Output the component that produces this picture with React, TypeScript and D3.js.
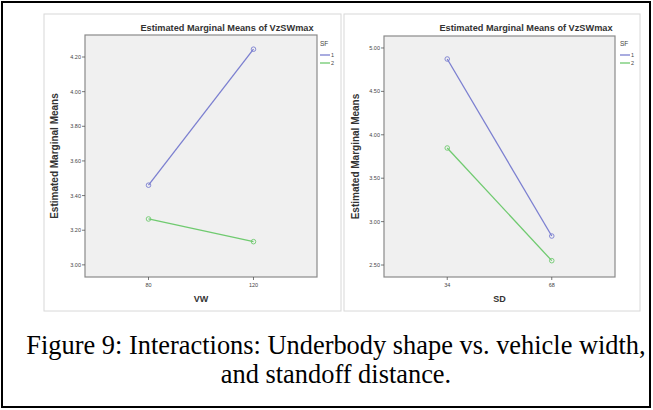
import React from 'react';
import * as d3 from 'd3';

// values
const sfGroups = ['1', '2'];
const sfColors = ['#7b7fd0', '#6fca6f'];

const vwCategories = ['80', '120'];
const vwSF1 = [3.46, 4.245];
const vwSF2 = [3.265, 3.134];
const vwTicks = [3.0, 3.2, 3.4, 3.6, 3.8, 4.0, 4.2];
const vwDomain: [number, number] = [2.93, 4.327];

const sdCategories = ['34', '68'];
const sdSF1 = [4.873, 2.834];
const sdSF2 = [3.848, 2.55];
const sdTicks = [2.5, 3.0, 3.5, 4.0, 4.5, 5.0];
const sdDomain: [number, number] = [2.362, 5.138];

const caption = [
    'Figure 9: Interactions: Underbody shape vs. vehicle width,',
    'and standoff distance.',
];

interface PanelProps {
    box: { x: number; y: number; w: number; h: number };
    plot: { left: number; right: number; top: number; bottom: number };
    categories: string[];
    series: number[][];
    ticks: number[];
    domain: [number, number];
    xLabel: string;
    titleX: number;
    legendX: number;
    yLabelX: number;
}

const Panel: React.FC<PanelProps> = ({ box, plot, categories, series, ticks, domain, xLabel, titleX, legendX, yLabelX }) => {
    const x = d3.scalePoint<string>().domain(categories).range([plot.left, plot.right]).padding(0.605);
    const y = d3.scaleLinear().domain(domain).range([plot.bottom, plot.top]);
    const line = d3.line<number>()
        .x((_, i) => x(categories[i]) as number)
        .y(d => y(d));
    const font = 'Arial, "Liberation Sans", sans-serif';

    return (
        <g>
            <rect x={box.x} y={box.y} width={box.w} height={box.h} fill="#fff" stroke="#d8d8d8" strokeWidth={1} />
            <text x={titleX} y={31} textAnchor="middle" fontFamily={font} fontWeight="bold" fontSize={9.2} fill="#333">
                Estimated Marginal Means of VzSWmax
            </text>
            <rect x={plot.left} y={plot.top} width={plot.right - plot.left} height={plot.bottom - plot.top}
                  fill="#f0f0f0" stroke="#8a8a8a" strokeWidth={1.2} />
            {ticks.map(t => (
                <g key={t}>
                    <line x1={plot.left - 3} x2={plot.left} y1={y(t)} y2={y(t)} stroke="#555" strokeWidth={0.8} />
                    <text x={plot.left - 4} y={y(t)} dy="0.35em" textAnchor="end" fontFamily={font} fontSize={5.5} fill="#444">
                        {d3.format('.2f')(t)}
                    </text>
                </g>
            ))}
            {categories.map(c => (
                <g key={c}>
                    <line x1={x(c)} x2={x(c)} y1={plot.bottom} y2={plot.bottom + 3} stroke="#555" strokeWidth={0.8} />
                    <text x={x(c)} y={plot.bottom + 10} textAnchor="middle" fontFamily={font} fontSize={5.5} fill="#444">
                        {c}
                    </text>
                </g>
            ))}
            <text x={(plot.left + plot.right) / 2} y={plot.bottom + 25} textAnchor="middle" fontFamily={font}
                  fontWeight="bold" fontSize={9} fill="#333">
                {xLabel}
            </text>
            <text transform={`translate(${yLabelX},${(plot.top + plot.bottom) / 2}) rotate(-90)`} textAnchor="middle"
                  fontFamily={font} fontWeight="bold" fontSize={10} fill="#333">
                Estimated Marginal Means
            </text>
            {series.map((s, i) => (
                <g key={i}>
                    <path d={line(s) as string} fill="none" stroke={sfColors[i]} strokeWidth={1.3} />
                    {s.map((v, j) => (
                        <circle key={j} cx={x(categories[j])} cy={y(v)} r={2.3} fill="none" stroke={sfColors[i]} strokeWidth={0.9} />
                    ))}
                </g>
            ))}
            <text x={legendX} y={46} fontFamily={font} fontSize={6.5} fill="#444">SF</text>
            {sfGroups.map((g, i) => (
                <g key={g}>
                    <line x1={legendX} x2={legendX + 10} y1={55 + i * 8} y2={55 + i * 8} stroke={sfColors[i]} strokeWidth={1.3} />
                    <text x={legendX + 11} y={55 + i * 8} dy="0.35em" fontFamily={font} fontSize={5.5} fill="#444">{g}</text>
                </g>
            ))}
        </g>
    );
};

const App: React.FC = () => {
    return (
        <svg width={653} height={410} style={{ position: 'absolute', left: 0, top: 0, display: 'block' }}>
            <rect x={0} y={0} width={653} height={410} fill="#fff" />
            <rect x={2} y={2} width={648} height={405} fill="none" stroke="#000" strokeWidth={2} />
            <Panel
                box={{ x: 44, y: 14, w: 297, h: 297 }}
                plot={{ left: 85, right: 317, top: 35, bottom: 277 }}
                categories={vwCategories}
                series={[vwSF1, vwSF2]}
                ticks={vwTicks}
                domain={vwDomain}
                xLabel="VW"
                titleX={227}
                legendX={320}
                yLabelX={58}
            />
            <Panel
                box={{ x: 344, y: 14, w: 296, h: 297 }}
                plot={{ left: 384, right: 615, top: 36, bottom: 277 }}
                categories={sdCategories}
                series={[sdSF1, sdSF2]}
                ticks={sdTicks}
                domain={sdDomain}
                xLabel="SD"
                titleX={526}
                legendX={620}
                yLabelX={359}
            />
            {caption.map((c, i) => (
                <text key={i} x={336} y={354 + i * 29} textAnchor="middle"
                      fontFamily='"Liberation Serif", "Times New Roman", serif' fontSize={26.4} fill="#000">
                    {c}
                </text>
            ))}
        </svg>
    );
};

export default App;
